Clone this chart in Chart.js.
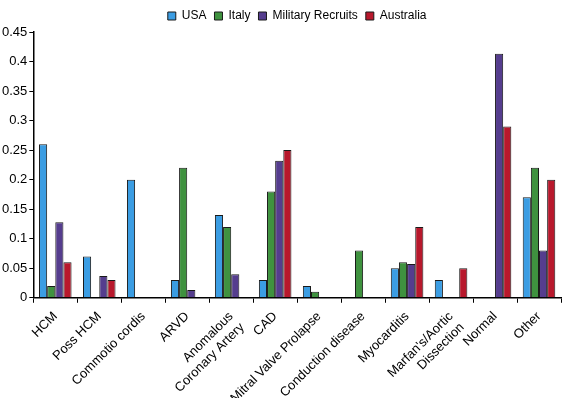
<!DOCTYPE html>
<html>
<head>
<meta charset="utf-8">
<script src="https://cdn.jsdelivr.net/npm/chart.js@4"></script>
<style>
  body { margin: 0; background: #fff; }
  #wrap { width: 562px; height: 398px; }
</style>
</head>
<body>
<div id="wrap"><canvas id="myChart" width="562" height="398"></canvas></div>
<script>
// categories (multi-line ones as arrays)
var causes = ['HCM', 'Poss HCM', 'Commotio cordis', 'ARVD', ['Anomalous', 'Coronary Artery'], 'CAD',
  'Mitral Valve Prolapse', 'Conduction disease', 'Myocarditis', ["Marfan's/Aortic", 'Dissection'], 'Normal', 'Other']
// series values
var usa = [0.26, 0.07, 0.2, 0.03, 0.14, 0.03, 0.02, 0, 0.05, 0.03, 0, 0.17]
var italy = [0.02, 0, 0, 0.22, 0.12, 0.18, 0.01, 0.08, 0.06, 0, 0, 0.22]
var recruits = [0.128, 0.037, 0, 0.013, 0.04, 0.232, 0, 0, 0.057, 0, 0.413, 0.08]
var australia = [0.06, 0.03, 0, 0, 0, 0.25, 0, 0, 0.12, 0.05, 0.29, 0.2]

Chart.defaults.font.family = '"Liberation Sans", Arial, sans-serif'
Chart.defaults.color = '#000'

var ctx = document.getElementById('myChart')
var myChart = new Chart(ctx, {
  type: 'bar',
  data: {
    labels: causes,
    datasets: [
      { label: 'USA', data: usa, backgroundColor: '#3b9de3', borderColor: '#1a1a1a', borderWidth: 1 },
      { label: 'Italy', data: italy, backgroundColor: '#3f923f', borderColor: '#1a1a1a', borderWidth: 1 },
      { label: 'Military Recruits', data: recruits, backgroundColor: '#553d8e', borderColor: '#1a1a1a', borderWidth: 1 },
      { label: 'Australia', data: australia, backgroundColor: '#b8182c', borderColor: '#1a1a1a', borderWidth: 1 }
    ]
  },
  options: {
    responsive: false,
    animation: false,
    layout: { padding: { left: 0, right: 1, top: 2, bottom: -25 } },
    datasets: { bar: { categoryPercentage: 0.74, barPercentage: 1 } },
    plugins: {
      tooltip: { enabled: false },
      legend: {
        position: 'top',
        fullSize: false,
        labels: { boxWidth: 8, boxHeight: 8, padding: 8, font: { size: 12 } }
      }
    },
    scales: {
      x: {
        grid: { display: true, drawOnChartArea: false, color: '#000', tickLength: 5, offset: true },
        border: { color: '#000', width: 1.5 },
        ticks: { maxRotation: 45, minRotation: 45, autoSkip: false, padding: 6, font: { size: 13 } }
      },
      y: {
        min: 0,
        max: 0.45,
        grid: { display: true, drawOnChartArea: false, color: '#000', tickLength: 4 },
        border: { color: '#000', width: 1.5 },
        ticks: {
          stepSize: 0.05, padding: 2, font: { size: 13 },
          callback: function(v) { return String(Math.round(v * 100) / 100) }
        }
      }
    }
  }
})
</script>
</body>
</html>
